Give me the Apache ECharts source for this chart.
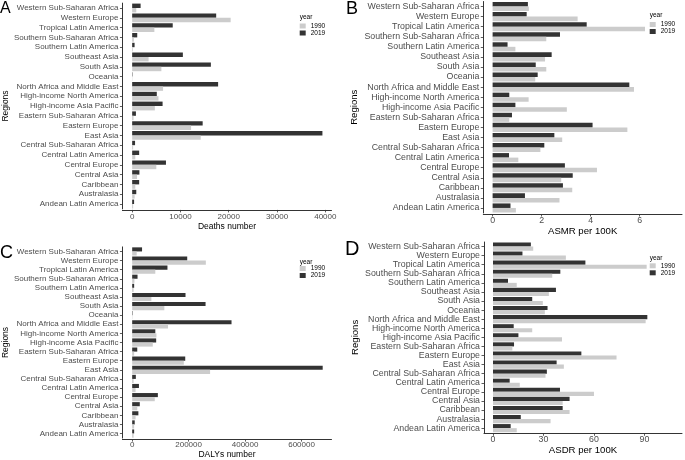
<!DOCTYPE html>
<html><head><meta charset="utf-8">
<script src="https://cdn.jsdelivr.net/npm/echarts@6/dist/echarts.min.js"></script>
<style>html,body{margin:0;padding:0;background:#fff}#c{width:685px;height:460px}</style>
</head><body><div id="c"></div>
<script>
// categories (bottom -> top)
const regions = ['Andean Latin America','Australasia','Caribbean','Central Asia','Central Europe','Central Latin America','Central Sub-Saharan Africa','East Asia','Eastern Europe','Eastern Sub-Saharan Africa','High-income Asia Pacific','High-income North America','North Africa and Middle East','Oceania','South Asia','Southeast Asia','Southern Latin America','Southern Sub-Saharan Africa','Tropical Latin America','Western Europe','Western Sub-Saharan Africa'];
const years = ['1990','2019'];

const deaths1990 = [200,520,650,1000,5000,650,200,14200,12200,280,4700,5450,6400,50,6050,3400,150,350,4600,20400,850];
const deaths2019 = [400,850,1450,1500,7000,1450,600,39400,14600,780,6300,5100,17800,80,16300,10500,500,1050,8400,17400,1750];

const asmr1990 = [0.95,2.73,3.25,2.80,4.26,1.05,1.95,2.84,5.50,0.68,3.03,1.47,5.77,1.74,2.19,2.14,0.93,2.19,6.22,3.47,1.48];
const asmr2019 = [0.73,1.32,2.87,3.27,2.95,0.67,2.11,2.52,4.08,0.79,0.93,0.68,5.58,1.84,1.76,2.41,0.61,2.75,3.84,1.39,1.44];

const dalys1990 = [5000,7000,12000,18000,80000,12000,5000,276000,183000,7000,73000,86000,127000,1000,114000,68000,5000,8000,82000,261000,16000];
const dalys2019 = [7000,9000,22000,27000,91000,24000,13000,675000,188000,18000,85000,82000,352000,1500,260000,189000,7000,19000,125000,195000,35000];

const asdr1990 = [14.1,34.2,45.5,41.4,60.0,15.9,31.2,42.1,73.4,11.5,41.0,23.3,90.7,30.8,29.6,33.2,14.1,35.2,91.3,43.3,23.9];
const asdr2019 = [10.5,16.5,41.4,45.5,39.8,9.9,32.0,37.8,52.5,12.5,15.1,12.3,91.7,32.4,23.3,37.4,8.9,40.0,54.9,17.5,22.5];

// tick labels
const deathTicks = [0,10000,20000,30000,40000];
const asmrTicks = [0,2,4,6];
const dalyTicks = [0,200000,400000,600000];
const asdrTicks = [0,30,60,90];

const FONT = "'Liberation Sans', Arial, Helvetica, sans-serif";

const panels = [
  {letter:'A', grid:{left:121.5, top:3.1, width:210, height:205.8}, min:-2020, max:41280, ticks:deathTicks,
   xName:'Deaths number', fs:8, nfs:8.5, xGap:12, yGap:107.5, lm:3, xOff:1, v1990:deaths1990, v2019:deaths2019,
   lt:{x:0, y:1, s:16}, leg:{x:299.7, y:22.5}, yr:{x:299.7, y:13.5}},
  {letter:'B', grid:{left:483.3, top:1.5, width:198.7, height:211.5}, min:-0.38, max:7.73, ticks:asmrTicks,
   xName:'ASMR per 100K', fs:8.8, nfs:9.6, xGap:11, yGap:123.5, lm:2, xOff:1, v1990:asmr1990, v2019:asmr2019,
   lt:{x:346, y:0.5, s:18}, leg:{x:649.7, y:21}, yr:{x:649.7, y:11.5}},
  {letter:'C', grid:{left:121.5, top:246.9, width:210, height:194.25}, min:-34600, max:706200, ticks:dalyTicks,
   xName:'DALYs number', fs:8, nfs:8.5, xGap:10.5, yGap:108.8, lm:2, xOff:1, v1990:dalys1990, v2019:dalys2019,
   lt:{x:0, y:244, s:18}, leg:{x:299.7, y:265}, yr:{x:299.7, y:258.3}},
  {letter:'D', grid:{left:484, top:242, width:198, height:190.7}, min:-5.35, max:112.3, ticks:asdrTicks,
   xName:'ASDR per 100K', fs:8.8, nfs:9.6, xGap:9, yGap:124, lm:2, xOff:0.6, v1990:asdr1990, v2019:asdr2019,
   lt:{x:345, y:239, s:20}, leg:{x:649.7, y:262.3}, yr:{x:649.7, y:254.8}}
];

const grid = [], xAxis = [], yAxis = [], series = [], legend = [], title = [];
panels.forEach((p, i) => {
  grid.push(Object.assign({containLabel:false}, p.grid));
  xAxis.push({
    type:'value', gridIndex:i, min:p.min, max:p.max, offset:p.xOff,
    splitLine:{show:false},
    axisLine:{show:true, onZero:false, lineStyle:{color:'#000', width:0.8}},
    axisTick:{show:true, length:2.5, customValues:p.ticks, lineStyle:{color:'#333', width:0.8}},
    axisLabel:{customValues:p.ticks, formatter:v => String(v), color:'#4d4d4d', fontSize:p.fs, margin:p.lm, fontFamily:FONT},
    name:p.xName, nameLocation:'middle', nameGap:p.xGap,
    nameTextStyle:{color:'#000', fontSize:p.nfs, fontFamily:FONT}
  });
  yAxis.push({
    type:'category', gridIndex:i, data:regions,
    axisLine:{show:true, onZero:false, lineStyle:{color:'#000', width:0.8}},
    axisTick:{show:true, alignWithLabel:true, length:2.5, lineStyle:{color:'#333', width:0.8}},
    axisLabel:{interval:0, color:'#4d4d4d', fontSize:p.fs, margin:4, fontFamily:FONT},
    name:'Regions', nameLocation:'middle', nameGap:p.yGap,
    nameTextStyle:{color:'#000', fontSize:p.nfs, fontFamily:FONT}
  });
  series.push({type:'bar', name:'2019', xAxisIndex:i, yAxisIndex:i, data:p.v2019,
    itemStyle:{color:'#333333'}, barCategoryGap:'10%', barGap:'0%'});
  series.push({type:'bar', name:'1990', xAxisIndex:i, yAxisIndex:i, data:p.v1990,
    itemStyle:{color:'#cccccc'}, barCategoryGap:'10%', barGap:'0%'});
  legend.push({orient:'vertical', left:p.leg.x, top:p.leg.y, padding:0, itemGap:0,
    itemWidth:6, itemHeight:5, icon:'rect', data:years, selectedMode:false,
    textStyle:{fontSize:6.5, color:'#000', lineHeight:5.6, fontFamily:FONT}});
  title.push({text:p.letter, left:p.lt.x, top:p.lt.y, padding:0,
    textStyle:{fontSize:p.lt.s, fontWeight:'normal', color:'#000', fontFamily:FONT}});
  title.push({text:'year', left:p.yr.x, top:p.yr.y, padding:0,
    textStyle:{fontSize:6.5, fontWeight:'normal', color:'#000', fontFamily:FONT}});
});

const chart = echarts.init(document.getElementById('c'), null, {renderer:'canvas'});
chart.setOption({
  animation:false,
  backgroundColor:'#fff',
  textStyle:{fontFamily:FONT},
  title, legend, grid, xAxis, yAxis, series
});
</script></body></html>
